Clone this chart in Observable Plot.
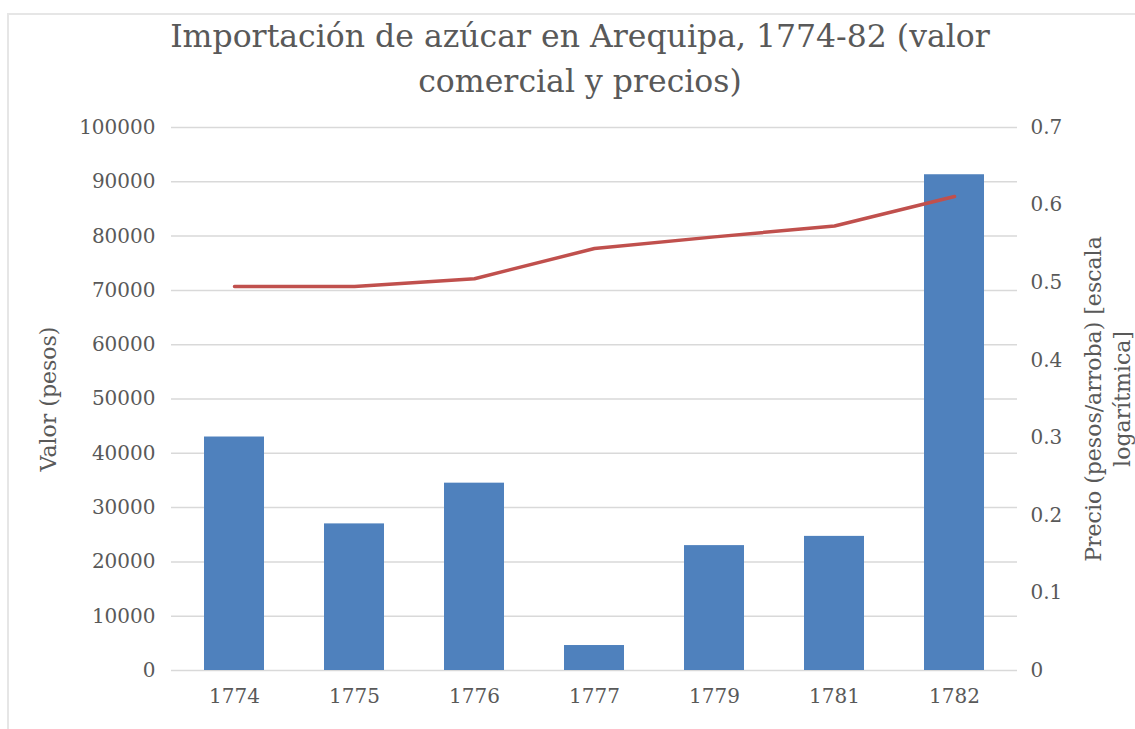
<!DOCTYPE html>
<html>
<head>
<meta charset="utf-8">
<script src="https://cdn.jsdelivr.net/npm/d3@7"></script>
<script src="https://cdn.jsdelivr.net/npm/@observablehq/plot@0.6"></script>
<style>
  html, body { margin: 0; padding: 0; background: #fff; }
  #frame { position: absolute; left: 7px; top: 13px; width: 1128px; height: 716px;
           border-left: 2px solid #e6e6e6; border-top: 2px solid #e6e6e6; box-sizing: border-box; }
  #title { position: absolute; left: 0; top: 14px; width: 1160px; text-align: center;
           font-family: "DejaVu Serif", serif;
           font-size: 31.5px; line-height: 45px; color: #595959; }
  #chart { position: absolute; left: 0; top: 110px; }
  #chart svg text { font-family: "DejaVu Serif", serif; }
</style>
</head>
<body>
<div id="frame"></div>
<div id="title">Importación de azúcar en Arequipa, 1774-82 (valor<br>comercial y precios)</div>
<div id="chart"></div>
<script>
const years = ["1774", "1775", "1776", "1777", "1779", "1781", "1782"];
const valores = [43000, 27000, 34500, 4600, 23000, 24700, 91300];
const precios = [0.495, 0.495, 0.505, 0.544, 0.559, 0.573, 0.611];
const leftTicks = [0, 10000, 20000, 30000, 40000, 50000, 60000, 70000, 80000, 90000, 100000];
const rightTickLabels = ["0", "0.1", "0.2", "0.3", "0.4", "0.5", "0.6", "0.7"];
const yMax = 100000;
const priceMax = 0.7;

const rows = years.map((y, i) => ({year: y, valor: valores[i], precio: precios[i], pScaled: precios[i] * yMax / priceMax}));
const rightTicks = rightTickLabels.map(s => (+s) * yMax / priceMax);

const chart = Plot.plot({
  width: 1135,
  height: 619,
  marginLeft: 171,
  marginRight: 118,
  marginTop: 17,
  marginBottom: 59,
  style: {fontSize: "20px", color: "#595959", background: "transparent"},
  x: {type: "band", domain: years, paddingInner: 0.5, paddingOuter: 0.25},
  y: {domain: [0, yMax]},
  marks: [
    Plot.ruleY(leftTicks, {stroke: "#d9d9d9", strokeWidth: 1.5}),
    Plot.barY(rows, {x: "year", y: "valor", fill: "#4f81bd"}),
    Plot.line(rows, {x: "year", y: "pScaled", stroke: "#c0504d", strokeWidth: 3.5}),
    Plot.axisY({ticks: leftTicks, tickSize: 0, tickPadding: 16, label: null, tickFormat: d => String(d), fill: "#595959"}),
    Plot.axisY({anchor: "right", ticks: rightTicks, tickSize: 0, tickPadding: 13, label: null,
                tickFormat: (d, i) => rightTickLabels[i], fill: "#595959"}),
    Plot.axisX({tickSize: 0, tickPadding: 18, label: null, fill: "#595959"}),
    Plot.text(["Valor (pesos)"], {frameAnchor: "left", textAnchor: "middle", dx: -123, rotate: -90, fill: "#595959", fontSize: 22}),
    Plot.text(["Precio (pesos/arroba) [escala"], {frameAnchor: "right", textAnchor: "middle", dx: 76, rotate: -90, fill: "#595959", fontSize: 22}),
    Plot.text(["logarítmica]"], {frameAnchor: "right", textAnchor: "middle", dx: 105, rotate: -90, fill: "#595959", fontSize: 22})
  ]
});
document.getElementById("chart").appendChild(chart);
</script>
</body>
</html>
